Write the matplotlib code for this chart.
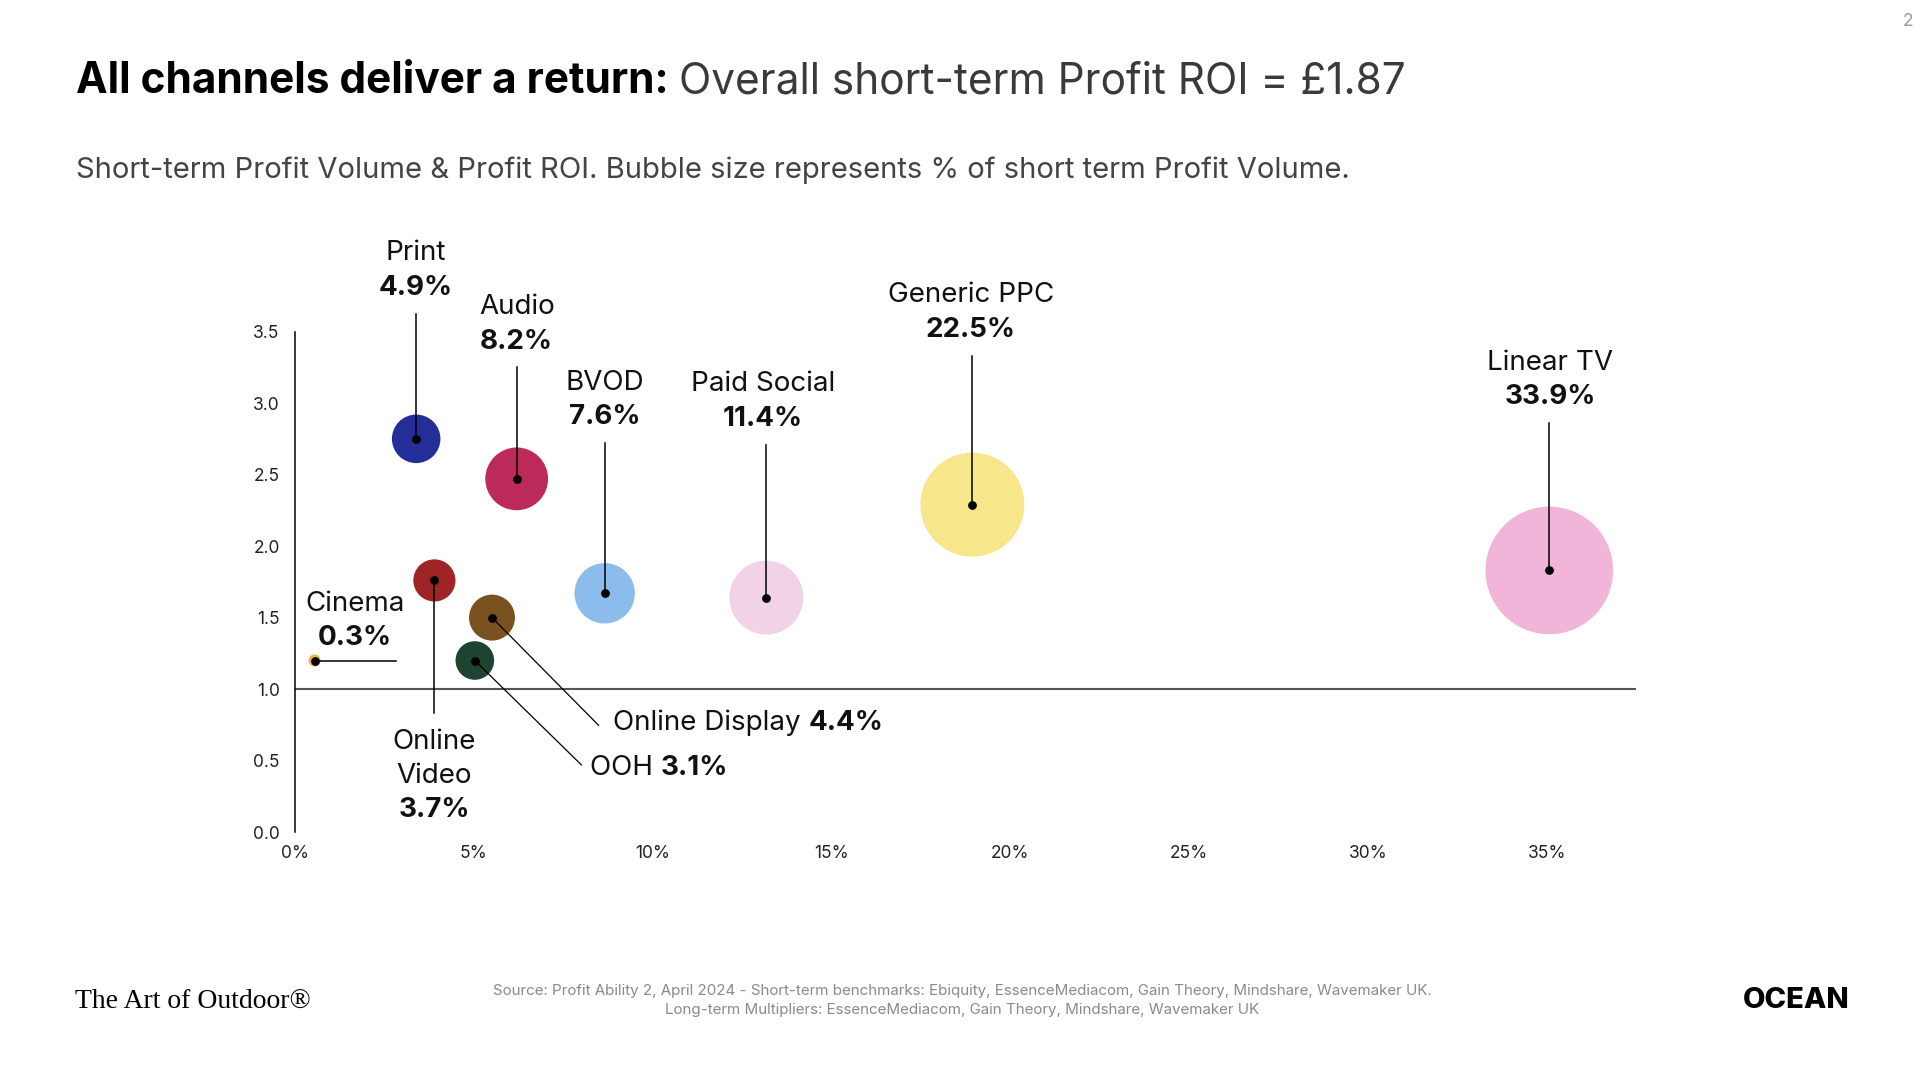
import numpy as np
import matplotlib.pyplot as plt
from matplotlib.ticker import FuncFormatter

plt.rcParams['font.family'] = ['Inter', 'DejaVu Sans']

# channel data: share of short-term profit volume (%), x = volume %, y = profit ROI
channels = ['Print', 'Audio', 'BVOD', 'Paid Social', 'Generic PPC', 'Linear TV',
            'Online Video', 'Online Display', 'OOH', 'Cinema']
volume_pct = [3.39, 6.2, 8.66, 13.18, 18.94, 35.07, 3.9, 5.51, 5.03, 0.55]
profit_roi = [2.75, 2.47, 1.67, 1.64, 2.29, 1.83, 1.76, 1.50, 1.20, 1.20]
share_pct = [4.9, 8.2, 7.6, 11.4, 22.5, 33.9, 3.7, 4.4, 3.1, 0.3]
colors = ['#232E98', '#BC2A5A', '#8BBCEB', '#F2D2E7', '#F8E68A', '#F0B5D9',
          '#9E2426', '#7A5222', '#1C4430', '#F2B33D']

x_ticks = [0, 5, 10, 15, 20, 25, 30, 35]
y_ticks = [0.0, 0.5, 1.0, 1.5, 2.0, 2.5, 3.0, 3.5]

# label layout: style, text x, line end (x, y)
layout = {
    'Print': ('top', 3.39, 3.39, 3.625),
    'Audio': ('top', 6.2, 6.2, 3.25),
    'BVOD': ('top', 8.66, 8.66, 2.72),
    'Paid Social': ('top', 13.08, 13.18, 2.71),
    'Generic PPC': ('top', 18.9, 18.94, 3.33),
    'Linear TV': ('top', 35.1, 35.07, 2.86),
    'Cinema': ('cinema', 1.68, 2.84, 1.20),
    'Online Video': ('below', 3.9, 3.9, 0.83),
    'Online Display': ('side', 8.9, 8.49, 0.747),
    'OOH': ('side', 8.25, 8.01, 0.47),
}

fig = plt.figure(figsize=(19.2, 10.8), dpi=100)
ax = fig.add_axes([0.1536, 0.2295, 0.6986, 0.4635])
ax.set_xlim(0, 37.5)
ax.set_ylim(0, 3.5)

ax.scatter(volume_pct, profit_roi, s=np.array(share_pct) * 249, c=colors,
           edgecolors='none', zorder=2, clip_on=False)
ax.scatter(volume_pct, profit_roi, s=28, c='black', zorder=4, clip_on=False)
ax.axhline(1.0, color='#555555', lw=1.5, zorder=1)

for sp in ['top', 'right', 'bottom']:
    ax.spines[sp].set_visible(False)
ax.spines['left'].set_color('black')
ax.spines['left'].set_linewidth(1.1)
ax.set_xticks(x_ticks)
ax.set_yticks(y_ticks)
ax.xaxis.set_major_formatter(FuncFormatter(lambda v, p: f'{v:.0f}%'))
ax.yaxis.set_major_formatter(FuncFormatter(lambda v, p: f'{v:.1f}'))
ax.tick_params(axis='both', length=0, labelsize=12.5, labelcolor='#222222')
ax.tick_params(axis='y', pad=11)
ax.tick_params(axis='x', pad=9)

fig.canvas.draw()
renderer = fig.canvas.get_renderer()

lab = dict(fontsize=20, color='#111111')
for name, xv, yv, sh in zip(channels, volume_pct, profit_roi, share_pct):
    style, tx, lx, ly = layout[name]
    pct = f'{sh}%'
    if style == 'top':
        ax.plot([lx, xv], [ly, yv], color='black', lw=1.1, zorder=3, clip_on=False)
        ax.annotate(pct, (tx, ly), xytext=(0, 18.5), textcoords='offset points',
                    ha='center', va='center', fontweight='bold', annotation_clip=False, **lab)
        ax.annotate(name, (tx, ly), xytext=(0, 43.5), textcoords='offset points',
                    ha='center', va='center', annotation_clip=False, **lab)
    elif style == 'cinema':
        ax.plot([xv, lx], [yv, ly], color='black', lw=1.1, zorder=3, clip_on=False)
        ax.annotate(pct, (tx, ly), xytext=(0, 16.5), textcoords='offset points',
                    ha='center', va='center', fontweight='bold', annotation_clip=False, **lab)
        ax.annotate(name, (tx, ly), xytext=(0, 41), textcoords='offset points',
                    ha='center', va='center', annotation_clip=False, **lab)
    elif style == 'below':
        ax.plot([xv, lx], [yv, ly], color='black', lw=1.1, zorder=3, clip_on=False)
        for i, (txt, w) in enumerate([('Online', 'normal'), ('Video', 'normal'), (pct, 'bold')]):
            ax.annotate(txt, (tx, ly), xytext=(0, -20.5 - 24.5 * i), textcoords='offset points',
                        ha='center', va='center', fontweight=w, annotation_clip=False, **lab)
    else:
        ax.plot([xv, lx], [yv, ly], color='black', lw=0.9, zorder=3, clip_on=False)
        px, py = ax.transData.transform((tx, ly))
        if name == 'Online Display':
            py = ax.transData.transform((tx, 0.79))[1]
        py -= 3.5
        t1 = fig.text(px / 1920, py / 1080, name + ' ', va='center', ha='left', **lab)
        bb = t1.get_window_extent(renderer)
        fig.text(bb.x1 / 1920, py / 1080, pct, va='center', ha='left', fontweight='bold', **lab)

# title with mixed weights
t1 = fig.text(76 / 1920, 1 - 93 / 1080, 'All channels deliver a return: ', fontsize=30.5,
              fontweight='bold', color='black', va='baseline')
bb = t1.get_window_extent(renderer)
fig.text(bb.x1 / 1920, 1 - 93 / 1080, 'Overall short-term Profit ROI = £1.87', fontsize=30.5,
         color='#3a3a3a', va='baseline')
fig.text(76 / 1920, 1 - 178 / 1080,
         'Short-term Profit Volume & Profit ROI. Bubble size represents % of short term Profit Volume.',
         fontsize=21, color='#444444', va='baseline')
fig.text(1908 / 1920, 1 - 21 / 1080, '2', fontsize=12.5, color='#999999', ha='center', va='center')

# footer
fig.text(75 / 1920, 1 - 1001 / 1080, 'The Art of Outdoor®', family=['Liberation Serif', 'DejaVu Serif'],
         fontsize=20, color='black', va='center', ha='left')
fig.text(962 / 1920, 1 - 991 / 1080,
         'Source: Profit Ability 2, April 2024 - Short-term benchmarks: Ebiquity, EssenceMediacom, Gain Theory, Mindshare, Wavemaker UK.',
         fontsize=10.9, color='#8a8a8a', ha='center', va='center')
fig.text(962 / 1920, 1 - 1010 / 1080,
         'Long-term Multipliers: EssenceMediacom, Gain Theory, Mindshare, Wavemaker UK',
         fontsize=10.9, color='#8a8a8a', ha='center', va='center')
fig.text(1850 / 1920, 1 - 1001 / 1080, 'OCEAN', fontsize=21, fontweight='heavy', color='black',
         ha='right', va='center')

fig.savefig('out.png', dpi=100, facecolor='white')
